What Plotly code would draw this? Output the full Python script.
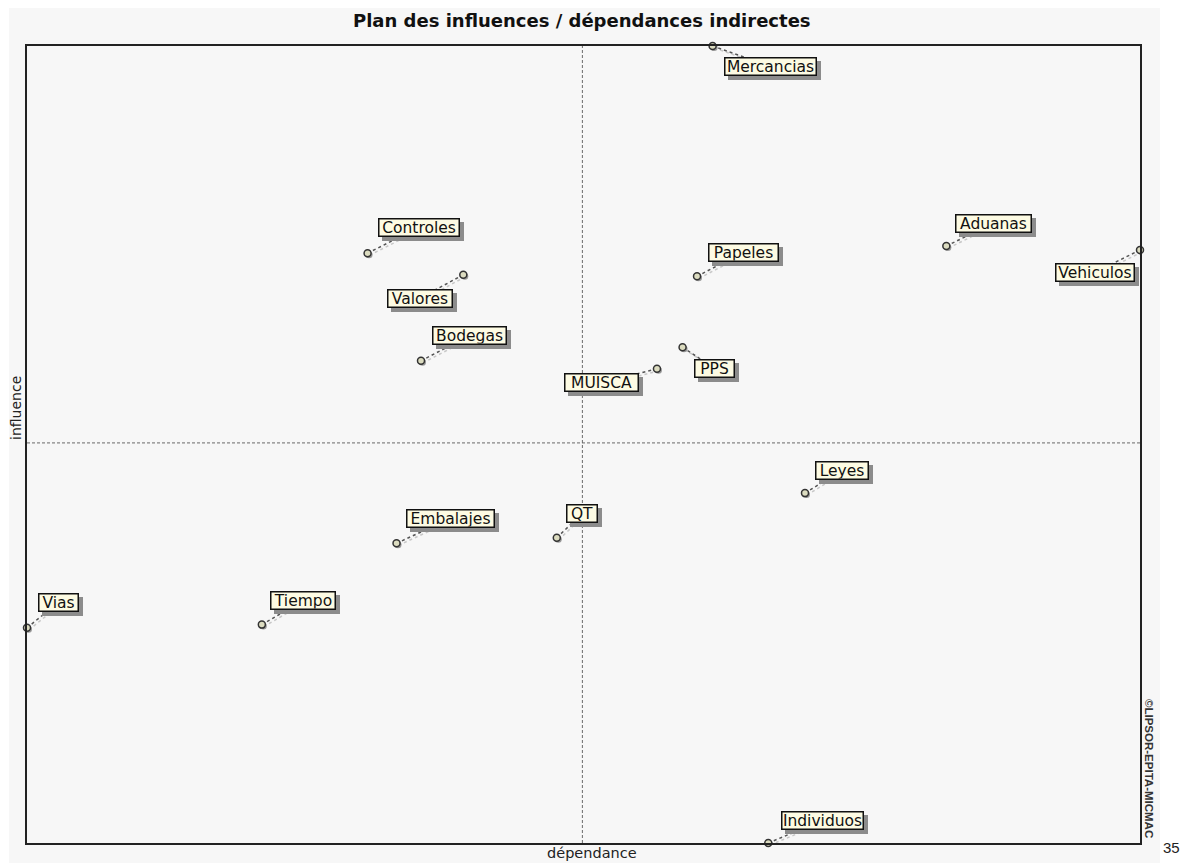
import plotly.graph_objects as go

# ---- data (axes scaled 0..100) ----
variables = ["Mercancias", "Controles", "Valores", "Bodegas", "MUISCA", "PPS",
             "Papeles", "Aduanas", "Vehiculos", "Leyes", "QT", "Embalajes",
             "Tiempo", "Vias", "Individuos"]
dependance = [61.6, 30.6, 39.2, 35.4, 56.6, 58.9, 60.2, 82.6, 100.0, 69.9,
              47.6, 33.2, 21.1, 0.0, 66.6]
influence = [100.0, 74.0, 71.3, 60.5, 59.5, 62.2, 71.1, 74.9, 74.4, 43.9,
             38.3, 37.6, 27.4, 27.0, 0.0]
x_mean = 49.9
y_mean = 50.2

# ---- label placement (screen pixel offsets of the label centre from the point, box widths) ----
label_dx = [58, 51.5, -43.5, 48, -55, 32, 46, 47, -45.5, 37, 25, 54, 41, 31, 54]
label_dy = [20.5, -26, 23.5, -25, 14, 21, -24, -23, 22.5, -23, -24, -25, -24, -25, -22.5]
label_w = [90, 79, 63, 72, 72, 38, 68, 74, 77, 51, 29, 86, 63, 38, 80]

OFF = 8                      # page body margin
W, H = 1188 - OFF, 863 - OFF
L, T = 27 - OFF, 46 - OFF
R, B = W - (1140 - OFF), H - (843 - OFF)
pw, ph = W - L - R, H - T - B


def px(xp):
    return (xp - OFF - L) / pw


def py(yp):
    return (H - B - (yp - OFF)) / ph


fig = go.Figure()

shapes = []
# light gray image background
shapes.append(dict(type="rect", xref="paper", yref="paper",
                   x0=px(9), x1=px(1160), y0=py(870), y1=py(7),
                   fillcolor="#f7f7f7", line=dict(width=0), layer="below"))
# mean lines
shapes.append(dict(type="line", xref="x", yref="paper", x0=x_mean, x1=x_mean, y0=0, y1=1,
                   line=dict(color="#6a6a6a", width=1, dash="3px,2px"), layer="below"))
shapes.append(dict(type="line", xref="paper", yref="y", x0=0, x1=1, y0=y_mean, y1=y_mean,
                   line=dict(color="#6a6a6a", width=1, dash="3px,2px"), layer="below"))

annotations = []
for name, xv, yv, dx, dy, bw in zip(variables, dependance, influence, label_dx, label_dy, label_w):
    # leader line shadow
    shapes.append(dict(type="line", xref="x", yref="y",
                       xsizemode="pixel", ysizemode="pixel", xanchor=xv, yanchor=yv,
                       x0=2, x1=dx + 2, y0=-2, y1=-dy - 2,
                       line=dict(color="#c8c8c8", width=1.5, dash="dot"), layer="below"))
    # leader line
    shapes.append(dict(type="line", xref="x", yref="y",
                       xsizemode="pixel", ysizemode="pixel", xanchor=xv, yanchor=yv,
                       x0=0, x1=dx, y0=0, y1=-dy,
                       line=dict(color="#555555", width=1.5, dash="dot"), layer="below"))
    # marker shadow
    shapes.append(dict(type="circle", xref="x", yref="y",
                       xsizemode="pixel", ysizemode="pixel", xanchor=xv, yanchor=yv,
                       x0=-2, x1=5, y0=-5, y1=2,
                       fillcolor="#9a9a9a", line=dict(width=0), layer="below"))
    # label shadow
    annotations.append(dict(x=xv, y=yv, xref="x", yref="y", text=" ", showarrow=False,
                            xanchor="center", yanchor="middle",
                            xshift=dx + 4, yshift=-dy - 4, width=bw, height=16,
                            font=dict(family="DejaVu Sans", size=15.5, color="rgba(0,0,0,0)"),
                            bgcolor="#8c8c8c", bordercolor="#8c8c8c", borderwidth=1.5,
                            borderpad=0))
    # label box
    annotations.append(dict(x=xv, y=yv, xref="x", yref="y", text=name, showarrow=False,
                            xanchor="center", yanchor="middle",
                            xshift=dx, yshift=-dy, width=bw, height=16,
                            font=dict(family="DejaVu Sans", size=15.5, color="#111111"),
                            bgcolor="#fdfbe3", bordercolor="#111111", borderwidth=1.5,
                            borderpad=0))

fig.add_trace(go.Scatter(
    x=dependance, y=influence, mode="markers", cliponaxis=False,
    marker=dict(size=7, color="#dcdcc0", line=dict(color="#333333", width=1.5)),
    hoverinfo="text", text=variables, showlegend=False))

# title
annotations.append(dict(x=px(582), y=py(20), xref="paper", yref="paper",
                        xanchor="center", yanchor="middle", showarrow=False,
                        text="<b>Plan des influences / dépendances indirectes</b>",
                        font=dict(family="DejaVu Sans", size=18, color="#111111")))
# axis titles
annotations.append(dict(x=px(592), y=py(853), xref="paper", yref="paper",
                        xanchor="center", yanchor="middle", showarrow=False, text="dépendance",
                        font=dict(family="DejaVu Sans", size=14.5, color="#222222")))
annotations.append(dict(x=px(16), y=py(408), xref="paper", yref="paper",
                        xanchor="center", yanchor="middle", showarrow=False,
                        text="influence", textangle=-90,
                        font=dict(family="DejaVu Sans", size=14, color="#222222")))
# watermark
annotations.append(dict(x=px(1149), y=py(768), xref="paper", yref="paper",
                        xanchor="center", yanchor="middle", showarrow=False,
                        text="<b>©LIPSOR-EPITA-MICMAC</b>", textangle=90,
                        font=dict(family="Liberation Sans", size=11.5, color="#333333")))
# page number
annotations.append(dict(x=px(1171), y=py(847), xref="paper", yref="paper",
                        xanchor="center", yanchor="middle", showarrow=False,
                        text="35", font=dict(family="Liberation Sans", size=15, color="#222222")))

fig.update_layout(
    width=W, height=H,
    margin=dict(l=L, r=R, t=T, b=B, pad=0),
    paper_bgcolor="white", plot_bgcolor="#f7f7f7",
    xaxis=dict(range=[0, 100], showgrid=False, zeroline=False, showticklabels=False,
               ticks="", showline=True, mirror=True, linecolor="#222222", linewidth=2),
    yaxis=dict(range=[0, 100], showgrid=False, zeroline=False, showticklabels=False,
               ticks="", showline=True, mirror=True, linecolor="#222222", linewidth=2),
    shapes=shapes, annotations=annotations, showlegend=False,
)

fig.write_html("out.html")
